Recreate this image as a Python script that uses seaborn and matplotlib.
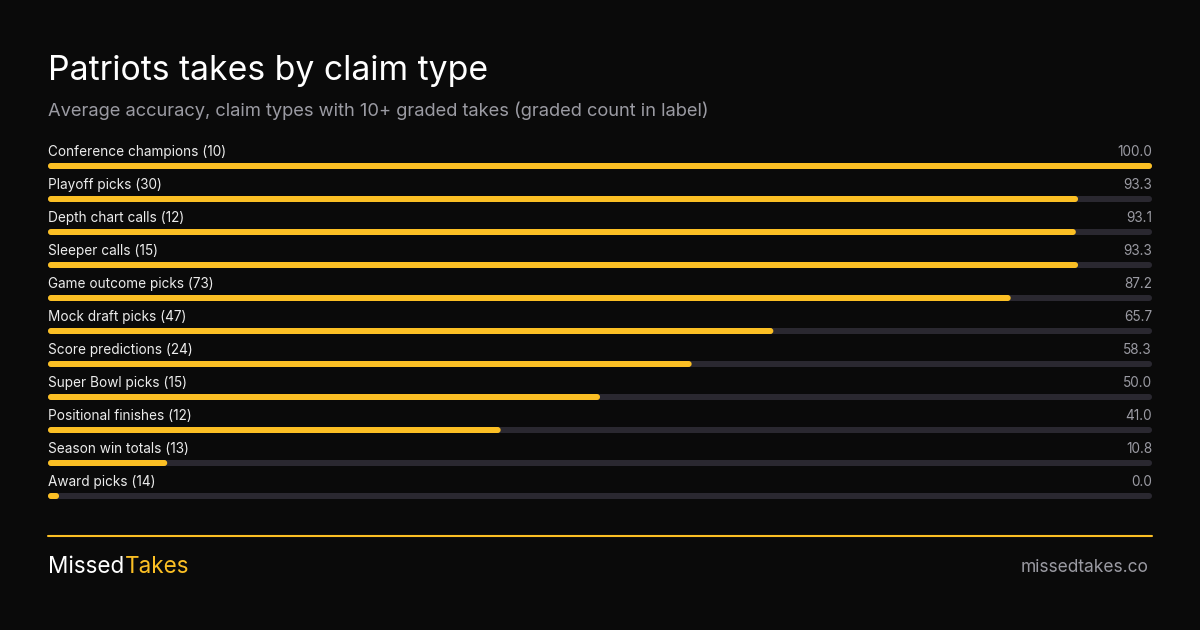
import matplotlib
matplotlib.use("Agg")
import matplotlib.pyplot as plt
import seaborn as sns
import pandas as pd
from matplotlib.patches import FancyBboxPatch

# Data
claim_types = [
    "Conference champions", "Playoff picks", "Depth chart calls", "Sleeper calls",
    "Game outcome picks", "Mock draft picks", "Score predictions", "Super Bowl picks",
    "Positional finishes", "Season win totals", "Award picks",
]
graded_counts = [10, 30, 12, 15, 73, 47, 24, 15, 12, 13, 14]
accuracy = [100.0, 93.3, 93.1, 93.3, 87.2, 65.7, 58.3, 50.0, 41.0, 10.8, 0.0]

BG = "#0a0a0a"
YELLOW = "#fbbf24"
TRACK = "#2a2830"
GREY = "#9b9ba3"
WHITE = "#ececec"

sns.set_theme(style="white")
plt.rcParams["font.family"] = ["Inter", "DejaVu Sans"]

W, H = 1200, 630
fig = plt.figure(figsize=(12, 6.3), dpi=100, facecolor=BG)

df = pd.DataFrame({
    "label": [f"{c} ({n})" for c, n in zip(claim_types, graded_counts)],
    "accuracy": accuracy,
})
# tiny minimum so a zero still shows as a dot, like the original
df["shown"] = df["accuracy"].clip(lower=1.0)
df["track"] = 100.0

# bar area: x 48..1152 px, first bar centre at y=166, 33 px per row
row_h = 33
top_px = 166 - row_h
bot_px = 166 + row_h * 10.5
ax = fig.add_axes([48 / W, 1 - bot_px / H, 1104 / W, (bot_px - top_px) / H])
ax.set_facecolor(BG)

bar_h = 6 / row_h
sns.barplot(data=df, x="track", y="label", color=TRACK, width=bar_h,
            orient="h", ax=ax, saturation=1)
sns.barplot(data=df, x="shown", y="label", color=YELLOW, width=bar_h,
            orient="h", ax=ax, saturation=1)

# swap the square bars for rounded ones (radius 3 px)
x_unit = 1104 / 100.0
r_x = 3 / x_unit
r_y = 3 / row_h
for p in list(ax.patches):
    x, y = p.get_x(), p.get_y()
    w, h = p.get_width(), p.get_height()
    fc = p.get_facecolor()
    p.remove()
    ax.add_patch(FancyBboxPatch((x, y), w, h,
                                boxstyle=f"round,pad=0,rounding_size={r_x}",
                                mutation_aspect=r_y / r_x, facecolor=fc, edgecolor="none"))

ax.set_xlim(0, 100)
ax.set_ylim(10.5, -1.0)
ax.axis("off")

for i, row in df.iterrows():
    ax.text(0, i - 0.43, row["label"], color=WHITE, fontsize=9.8, va="center", ha="left")
    ax.text(100, i - 0.43, f"{row['accuracy']:.1f}", color=GREY, fontsize=9.8,
            va="center", ha="right")

# titles
fig.text(48 / W, 1 - 71 / H, "Patriots takes by claim type", color="white",
         fontsize=24.3, va="center", ha="left")
fig.text(48 / W, 1 - 110.5 / H,
         "Average accuracy, claim types with 10+ graded takes (graded count in label)",
         color=GREY, fontsize=13.2, va="center", ha="left")

# footer
fig.add_artist(plt.Line2D([48 / W, 1152 / W], [1 - 535.5 / H, 1 - 535.5 / H],
                          color=YELLOW, linewidth=1.5))
brand = fig.text(48 / W, 1 - 567 / H, "Missed", color="white", fontsize=16.2,
                 va="center", ha="left")
takes = fig.text(0, 1 - 567 / H, "Takes", color=YELLOW, fontsize=16.2,
                 va="center", ha="left")
fig.canvas.draw()
bb = brand.get_window_extent()
takes.set_position(((bb.x1 + 1) / W, 1 - 567 / H))
fig.text(1148 / W, 1 - 567 / H, "missedtakes.co", color=GREY, fontsize=12.5,
         va="center", ha="right")

fig.savefig("out.png", dpi=100, facecolor=BG)
